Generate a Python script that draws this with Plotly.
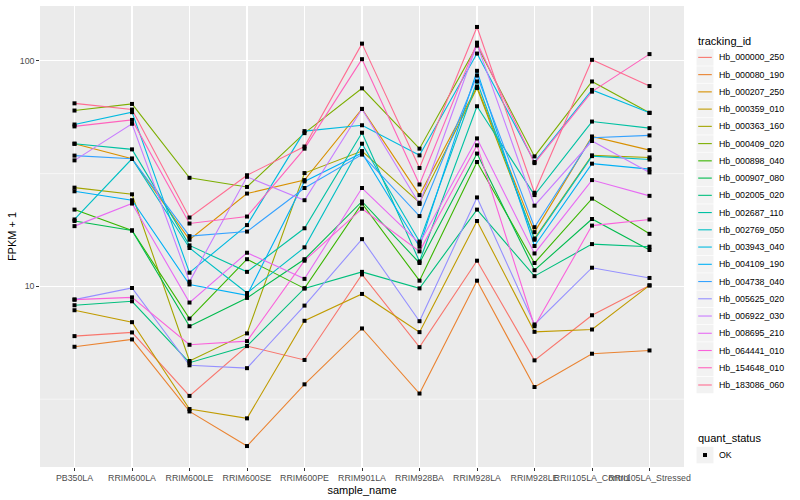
import plotly.graph_objects as go
import math

samples = ["PB350LA", "RRIM600LA", "RRIM600LE", "RRIM600SE", "RRIM600PE",
           "RRIM901LA", "RRIM928BA", "RRIM928LA", "RRIM928LE",
           "RRII105LA_Control", "RRII105LA_Stressed"]

tracking_ids = ["Hb_000000_250", "Hb_000080_190", "Hb_000207_250", "Hb_000359_010",
                "Hb_000363_160", "Hb_000409_020", "Hb_000898_040", "Hb_000907_080",
                "Hb_002005_020", "Hb_002687_110", "Hb_002769_050", "Hb_003943_040",
                "Hb_004109_190", "Hb_004738_040", "Hb_005625_020", "Hb_006922_030",
                "Hb_008695_210", "Hb_064441_010", "Hb_154648_010", "Hb_183086_060"]

colors = ["#F8766D", "#EA8331", "#D89000", "#C09B00", "#A3A500", "#7CAE00", "#39B600",
          "#00BB4E", "#00BF7D", "#00C1A3", "#00BFC4", "#00BAE0", "#00B0F6", "#35A2FF",
          "#9590FF", "#C77CFF", "#E76BF3", "#FA62DB", "#FF62BC", "#FF6C91"]

# FPKM + 1 per sample (order of `samples`)
Hb_000000_250 = [6.02, 6.25, 3.27, 5.44, 4.72, 11.3, 5.38, 13.0, 4.70, 7.45, 10.1]
Hb_000080_190 = [5.40, 5.82, 2.79, 1.96, 3.68, 6.51, 3.35, 10.6, 3.58, 5.03, 5.20]
Hb_000207_250 = [42.9, 36.8, 16.1, 25.8, 29.6, 61.2, 25.4, 76.8, 17.4, 46.2, 40.2]
Hb_000359_010 = [7.84, 6.94, 2.86, 2.60, 7.04, 9.26, 6.27, 19.5, 6.29, 6.44, 10.1]
Hb_000363_160 = [27.4, 25.6, 4.67, 6.19, 31.8, 39.8, 23.5, 75.8, 16.3, 38.1, 37.3]
Hb_000409_020 = [60.2, 64.4, 30.3, 27.6, 47.8, 75.5, 40.8, 116.8, 37.7, 81.0, 58.8]
Hb_000898_040 = [21.9, 17.7, 7.20, 13.2, 9.80, 23.3, 10.6, 35.6, 12.7, 24.5, 17.1]
Hb_000907_080 = [19.5, 17.7, 6.66, 8.89, 13.2, 23.8, 12.7, 38.8, 11.8, 19.9, 14.5]
Hb_002005_020 = [8.25, 8.59, 4.59, 5.44, 9.80, 11.6, 9.80, 21.9, 11.1, 15.4, 15.0]
Hb_002687_110 = [42.9, 40.5, 15.2, 11.6, 18.1, 48.0, 12.9, 62.9, 25.4, 53.8, 50.3]
Hb_002769_050 = [19.8, 36.8, 14.8, 9.35, 14.9, 42.9, 15.8, 81.0, 16.1, 37.8, 36.5]
Hb_003943_040 = [52.2, 59.2, 11.5, 18.7, 48.8, 51.8, 38.1, 107.7, 35.6, 74.3, 58.8]
Hb_004109_190 = [26.4, 24.1, 10.2, 9.13, 29.2, 39.0, 15.0, 90.3, 15.1, 35.0, 33.1]
Hb_004738_040 = [38.0, 36.8, 16.7, 17.5, 27.3, 38.4, 20.5, 86.1, 18.3, 45.6, 46.7]
Hb_005625_020 = [8.74, 9.84, 4.47, 4.34, 8.22, 16.2, 7.01, 24.8, 6.78, 12.1, 10.9]
Hb_006922_030 = [36.2, 52.6, 10.5, 30.6, 24.1, 61.2, 23.2, 118.5, 22.8, 44.1, 32.0]
Hb_008695_210 = [18.5, 23.3, 8.48, 14.1, 10.8, 27.3, 15.5, 45.3, 14.0, 29.6, 25.2]
Hb_064441_010 = [8.74, 8.94, 5.51, 5.72, 13.0, 22.1, 14.3, 42.2, 6.66, 18.6, 19.8]
Hb_154648_010 = [51.2, 54.7, 19.0, 20.4, 40.8, 101.7, 28.3, 120.4, 35.2, 73.0, 107.1]
Hb_183086_060 = [64.8, 60.8, 20.2, 31.1, 41.7, 119.2, 33.5, 141.3, 26.0, 101.0, 77.3]

series = [Hb_000000_250, Hb_000080_190, Hb_000207_250, Hb_000359_010, Hb_000363_160,
          Hb_000409_020, Hb_000898_040, Hb_000907_080, Hb_002005_020, Hb_002687_110,
          Hb_002769_050, Hb_003943_040, Hb_004109_190, Hb_004738_040, Hb_005625_020,
          Hb_006922_030, Hb_008695_210, Hb_064441_010, Hb_154648_010, Hb_183086_060]

y_ticks = [10, 100]
minor_ticks = [10 ** 0.5, 10 ** 1.5]

FONT = "Liberation Sans, Arial, Helvetica, sans-serif"
W, H = 800, 500
PL, PR, PT, PB = 40, 684, 5.5, 467.5  # plot area in pixels

allv = [v for s in series for v in s]
lo, hi = math.log10(min(allv)), math.log10(max(allv))
pad = (hi - lo) * 0.05
yr = [lo - pad, hi + pad]


def px(x):
    return (x - PL) / (PR - PL)


def py(y):
    return (PB - y) / (PB - PT)


fig = go.Figure()
for tid, col, vals in zip(tracking_ids, colors, series):
    fig.add_trace(go.Scatter(x=samples, y=vals, mode="lines", name=tid,
                             line=dict(color=col, width=1.1), showlegend=False))
for tid, vals in zip(tracking_ids, series):
    fig.add_trace(go.Scatter(x=samples, y=vals, mode="markers", name="OK",
                             marker=dict(symbol="square", size=4, color="black",
                                         line=dict(width=0)),
                             showlegend=False))

shapes = []
annotations = []
# minor y grid lines
for mv in minor_ticks:
    f = (math.log10(mv) - yr[0]) / (yr[1] - yr[0])
    shapes.append(dict(type="line", xref="paper", yref="paper", x0=0, x1=1, y0=f, y1=f,
                       line=dict(color="white", width=0.55), layer="below"))

# manual legend (tracking_id)
key_l, key_r = 696.5, 713.5
annotations.append(dict(text="tracking_id", x=px(696), y=py(40.5), xref="paper", yref="paper",
                        xanchor="left", yanchor="middle", showarrow=False,
                        font=dict(family=FONT, size=11, color="black")))
for i, (tid, col) in enumerate(zip(tracking_ids, colors)):
    c = 57.0 + 17.28 * i
    shapes.append(dict(type="rect", xref="paper", yref="paper",
                       x0=px(key_l), x1=px(key_r), y0=py(c - 8.3), y1=py(c + 8.3),
                       fillcolor="#F2F2F2", line=dict(width=0)))
    shapes.append(dict(type="line", xref="paper", yref="paper",
                       x0=px(key_l + 1.7), x1=px(key_r - 1.7), y0=py(c), y1=py(c),
                       line=dict(color=col, width=1.1)))
    annotations.append(dict(text=tid, x=px(717), y=py(c), xref="paper", yref="paper",
                            xanchor="left", yanchor="middle", showarrow=False,
                            font=dict(family=FONT, size=8.8, color="black")))

# manual legend (quant_status)
qt = 438.0
annotations.append(dict(text="quant_status", x=px(696), y=py(qt), xref="paper", yref="paper",
                        xanchor="left", yanchor="middle", showarrow=False,
                        font=dict(family=FONT, size=11, color="black")))
c = qt + 17.5
shapes.append(dict(type="rect", xref="paper", yref="paper",
                   x0=px(key_l), x1=px(key_r), y0=py(c - 8.3), y1=py(c + 8.3),
                   fillcolor="#F2F2F2", line=dict(width=0)))
shapes.append(dict(type="rect", xref="paper", yref="paper",
                   x0=px(705 - 2), x1=px(705 + 2), y0=py(c - 2), y1=py(c + 2),
                   fillcolor="black", line=dict(width=0)))
annotations.append(dict(text="OK", x=px(717), y=py(c), xref="paper", yref="paper",
                        xanchor="left", yanchor="middle", showarrow=False,
                        font=dict(family=FONT, size=8.8, color="black")))

fig.update_layout(
    width=W, height=H,
    margin=dict(l=PL, r=W - PR, t=PT, b=H - PB, pad=0),
    paper_bgcolor="white", plot_bgcolor="#EBEBEB",
    showlegend=False,
    font=dict(family=FONT, size=11, color="black"),
    shapes=shapes, annotations=annotations,
    xaxis=dict(type="category", categoryorder="array", categoryarray=samples,
               range=[-0.6, len(samples) - 0.4], showgrid=True, gridcolor="white",
               gridwidth=1.07, zeroline=False, showline=False,
               ticks="outside", ticklen=2.75, tickwidth=1, tickcolor="#333333",
               tickangle=0,
               tickfont=dict(family=FONT, size=8.8, color="#4D4D4D"),
               title=dict(text="sample_name", standoff=3,
                          font=dict(family=FONT, size=11, color="black")),
               automargin=False),
    yaxis=dict(type="log", range=yr, tickmode="array", tickvals=y_ticks,
               ticktext=[str(t) for t in y_ticks], showgrid=True, gridcolor="white",
               gridwidth=1.07, zeroline=False, showline=False,
               ticks="outside", ticklen=2.75, tickwidth=1, tickcolor="#333333",
               tickfont=dict(family=FONT, size=8.8, color="#4D4D4D"),
               title=dict(text="FPKM + 1", standoff=0,
                          font=dict(family=FONT, size=11, color="black")),
               automargin=False),
)

fig.write_html("out.html",
               config={"displayModeBar": False, "staticPlot": True},
               post_script="document.body.style.margin='0';document.body.style.overflow='hidden';")
